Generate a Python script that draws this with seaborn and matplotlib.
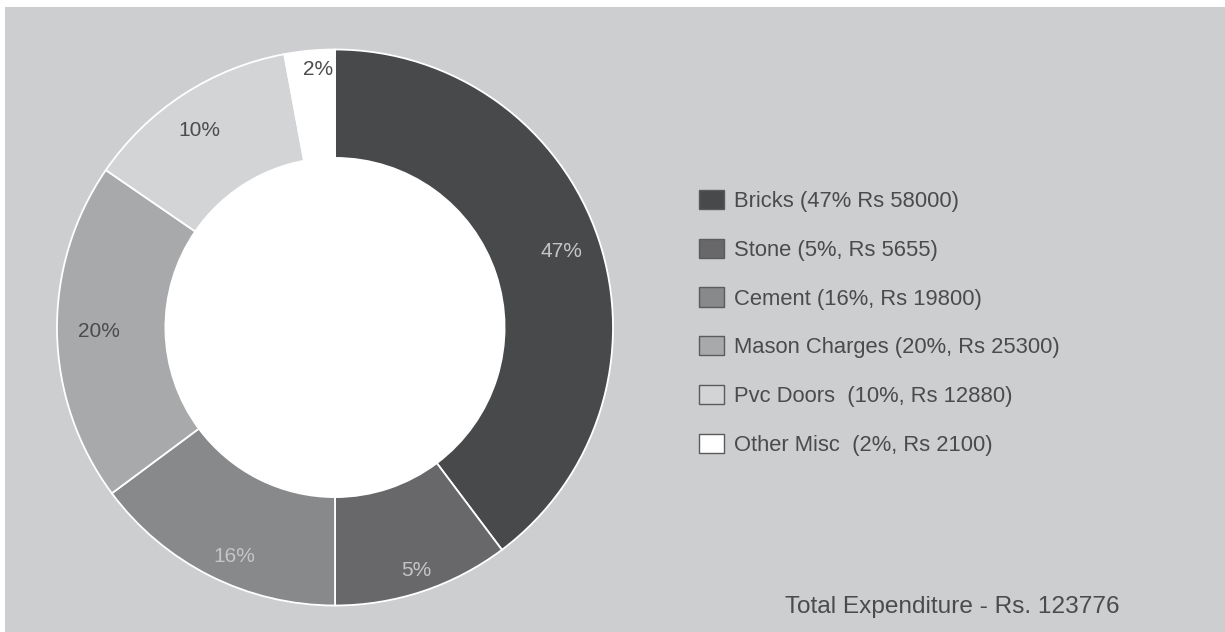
import matplotlib
matplotlib.use("Agg")
import matplotlib.pyplot as plt
from matplotlib.patches import Rectangle, Circle
import seaborn as sns
import numpy as np

sns.set_theme(style="white")
plt.rcParams['font.family'] = ['Liberation Sans', 'DejaVu Sans']

# slice sizes (share of the ring, in %)
categories = ["Bricks", "Stone", "Cement", "Mason Charges", "Pvc Doors", "Other Misc"]
slice_sizes = [39.75, 10.25, 14.83, 19.75, 12.5, 2.92]
pct_labels = ["47%", "5%", "16%", "20%", "10%", "2%"]
legend_labels = ["Bricks (47% Rs 58000)",
                 "Stone (5%, Rs 5655)",
                 "Cement (16%, Rs 19800)",
                 "Mason Charges (20%, Rs 25300)",
                 "Pvc Doors  (10%, Rs 12880)",
                 "Other Misc  (2%, Rs 2100)"]
total_text = "Total Expenditure - Rs. 123776"

colors = ["#48494b", "#68686b", "#88898b", "#a8a9ab", "#d3d4d6", "#ffffff"]
pct_colors = ["#c4c5c7", "#c4c5c7", "#c4c5c7", "#4a4b4d", "#4a4b4d", "#4a4b4d"]
label_r = [0.86, 0.92, 0.9, 0.85, 0.86, 0.93]
label_shift = [0, 0, 3, 0, 1.5, -1.5]  # small angle nudges (deg)
bg = "#cdced0"
txt = "#4a4b4d"

fig = plt.figure(figsize=(12.25, 6.32), dpi=100)
fig.patch.set_facecolor("white")
fig.patches.append(Rectangle((5 / 1225, 0), 1, 625 / 632, transform=fig.transFigure,
                             facecolor=bg, edgecolor="none", zorder=-10))

ax = fig.add_axes([57 / 1225, (632 - 605.5) / 632, 556 / 1225, 556 / 632])
ax.set_facecolor("none")
ax.set_zorder(5)
wedges, _ = ax.pie(slice_sizes, colors=colors, startangle=90, counterclock=False,
                   radius=1, wedgeprops=dict(width=0.39, edgecolor="white", linewidth=1.3))
ax.add_patch(Circle((0, 0), 0.61, facecolor="white", edgecolor="none", zorder=0))
ax.set_xlim(-1, 1)
ax.set_ylim(-1, 1)
ax.set_aspect("equal")
ax.axis("off")

for w, lab, c, r, s in zip(wedges, pct_labels, pct_colors, label_r, label_shift):
    th = np.deg2rad((w.theta1 + w.theta2) / 2 + s)
    ax.text(r * np.cos(th), r * np.sin(th), lab, ha="center", va="center",
            fontsize=15, color=c)

leg = fig.legend(wedges, legend_labels, loc="upper left",
                 bbox_to_anchor=(690 / 1225, 1 - 181 / 632), frameon=False,
                 fontsize=15.8, handlelength=1.14, handleheight=0.96,
                 handletextpad=0.47, labelspacing=1.22, borderaxespad=0)
for h in leg.legend_handles:
    h.set_edgecolor("#5a5b5d")
    h.set_linewidth(1.0)
for t in leg.get_texts():
    t.set_color(txt)

fig.text(785 / 1225, 1 - 607 / 632, total_text, ha="left", va="center",
         fontsize=17.6, color=txt)

plt.savefig("out.png", dpi=100, facecolor=fig.get_facecolor())
